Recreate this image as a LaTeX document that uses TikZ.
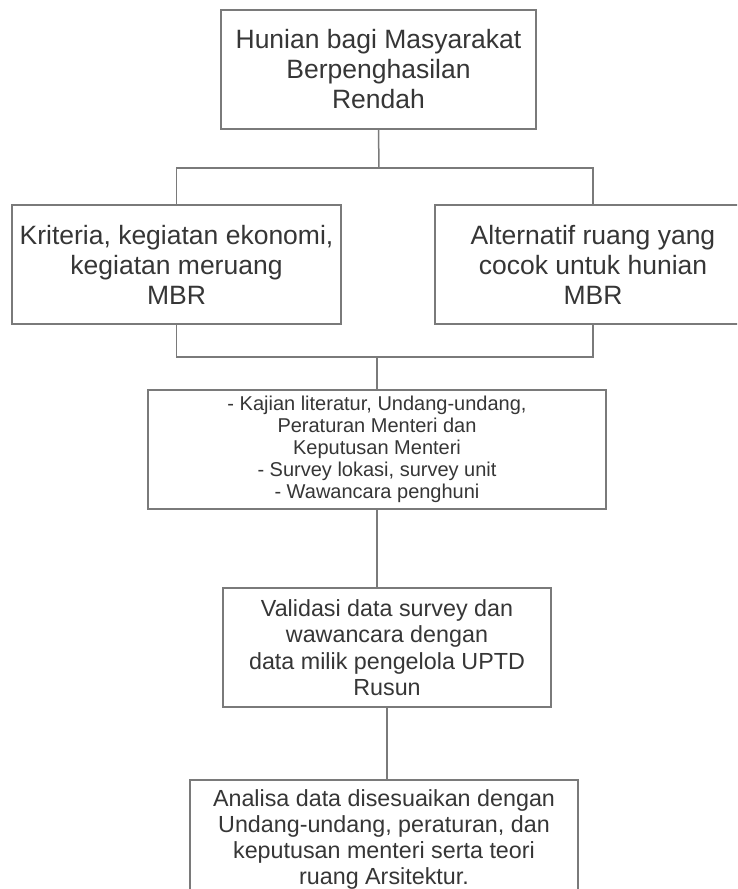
\documentclass[tikz,border=0pt]{standalone}
\usepackage{fontspec}
\setmainfont{Liberation Sans}
\definecolor{linec}{HTML}{7A7A7A}
\definecolor{textc}{HTML}{363636}
\tikzset{
  box/.style={draw=linec, line width=1.5pt, rectangle, align=center, text=textc, inner sep=0pt},
  bigtxt/.style={font=\fontsize{26.5}{30}\selectfont},
  midtxt/.style={font=\fontsize{23.3}{26.5}\selectfont},
  lowtxt/.style={font=\fontsize{23.3}{26}\selectfont},
  smalltxt/.style={font=\fontsize{20}{22}\selectfont},
  conn/.style={draw=linec, line width=1.5pt}
}
\begin{document}
\begin{tikzpicture}[x=1pt, y=-1pt]
\path[use as bounding box, fill=white] (0,0) rectangle (737,889);
\clip (0,0) rectangle (737,889);

\node[box, bigtxt, minimum width=315pt, minimum height=119pt] (top) at (378.5,69.5)
  {Hunian bagi Masyarakat\\Berpenghasilan\\Rendah};
\node[box, bigtxt, minimum width=329pt, minimum height=119pt] (left) at (176.5,264.5)
  {Kriteria, kegiatan ekonomi,\\kegiatan meruang\\MBR};
\node[box, bigtxt, minimum width=316pt, minimum height=119pt] (right) at (593,264.5)
  {Alternatif ruang yang\\cocok untuk hunian\\MBR};
\node[box, smalltxt, minimum width=458pt, minimum height=119pt] (mid) at (377,449.5)
  {- Kajian literatur, Undang-undang,\\Peraturan Menteri dan\\Keputusan Menteri\\- Survey lokasi, survey unit\\- Wawancara penghuni};
\node[box, midtxt, minimum width=328pt, minimum height=119pt] (val) at (387,647.5)
  {Validasi data survey dan\\wawancara dengan\\data milik pengelola UPTD\\Rusun};
\node[box, lowtxt, minimum width=388pt, anchor=north, inner ysep=10pt] (ana) at (384,779)
  {Analisa data disesuaikan dengan\\Undang-undang, peraturan, dan\\keputusan menteri serta teori\\ruang Arsitektur.};

\coordinate (jt) at (379,168);
\coordinate (jb) at (377,357);

\draw[conn] (top.south) -- (jt);
\draw[conn] (left.north) |- (jt) -| (right.north);
\draw[conn] (left.south) |- (jb) -| (right.south);
\draw[conn] (jb) -- (mid.north);
\draw[conn] (mid.south) -- (mid.south |- val.north);
\draw[conn] (val.south) -- (val.south |- ana.north);
\end{tikzpicture}
\end{document}
